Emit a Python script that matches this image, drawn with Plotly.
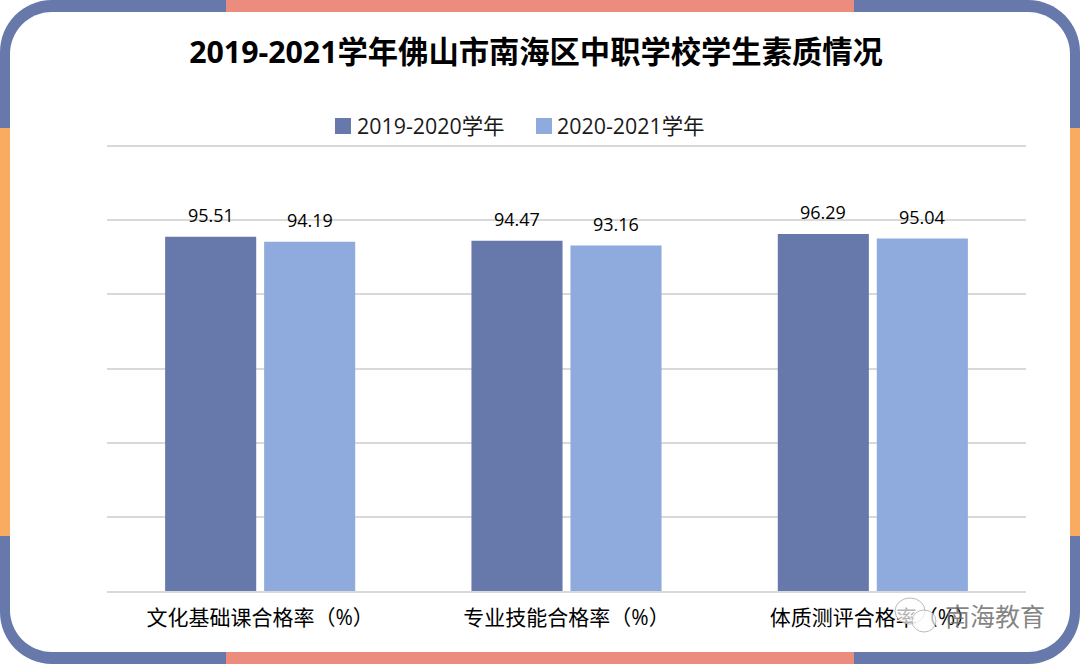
import plotly.graph_objects as go

categories = ["文化基础课合格率（%）", "专业技能合格率（%）", "体质测评合格率（%）"]
series_2019 = [95.51, 94.47, 96.29]
series_2020 = [94.19, 93.16, 95.04]
name_2019 = "2019-2020学年"
name_2020 = "2020-2021学年"
title_text = "2019-2021学年佛山市南海区中职学校学生素质情况"

FONT = "Open Sans, Noto Sans CJK SC, sans-serif"
BLUE = "#6779AB"
LIGHT = "#8FAADC"
ORANGE = "#F9AB62"
SALMON = "#EC8C7E"
W, H = 1080, 664
L, R, T, B = 107, 1026, 143, 591


def px(x):
    return (x - L) / (R - L)


def py(y):
    return (B - y) / (B - T)


def rrect(x0, y0, x1, y1, r):
    k = 0.5523 * r
    pts = [
        ("M", x0 + r, y0), ("L", x1 - r, y0),
        ("C", x1 - r + k, y0, x1, y0 + r - k, x1, y0 + r), ("L", x1, y1 - r),
        ("C", x1, y1 - r + k, x1 - r + k, y1, x1 - r, y1), ("L", x0 + r, y1),
        ("C", x0 + r - k, y1, x0, y1 - r + k, x0, y1 - r), ("L", x0, y0 + r),
        ("C", x0, y0 + r - k, x0 + r - k, y0, x0 + r, y0),
    ]
    out = ""
    for p in pts:
        vals = p[1:]
        coords = [f"{px(vals[i]):.5f},{py(vals[i + 1]):.5f}" for i in range(0, len(vals), 2)]
        out += p[0] + " ".join(coords) + " "
    return out + "Z"


def band(x0, y0, x1, y1, color, layer="below"):
    return dict(type="rect", xref="paper", yref="paper", layer=layer, line_width=0,
                fillcolor=color, x0=px(x0), x1=px(x1), y0=py(y0), y1=py(y1))


def blob(path, color):
    return dict(type="path", xref="paper", yref="paper", layer="below",
                path=path, fillcolor=color, line_width=0)


def bubble(x0, y0, x1, y1):
    return dict(type="circle", xref="paper", yref="paper", layer="above",
                x0=px(x0), x1=px(x1), y0=py(y0), y1=py(y1),
                fillcolor="rgba(255,255,255,0.7)", line=dict(color="rgba(170,170,170,0.8)", width=1))


def label(text, x, y, size, color="#000000", anchor="left"):
    return dict(text=text, xref="paper", yref="paper", x=px(x), y=py(y), xanchor=anchor, yanchor="middle",
                showarrow=False, font=dict(size=size, color=color, family=FONT))


def value_labels(vals, shift):
    return [dict(text=f"{v:.2f}", xref="x", yref="y", x=c, y=v, xshift=shift, yshift=8,
                 xanchor="center", yanchor="bottom", showarrow=False,
                 font=dict(size=18, color="#000000", family=FONT))
            for c, v in zip(categories, vals)]


shapes = [
    blob(rrect(0, 0, W, H, 52), BLUE),
    band(226, 0, 854, 20, SALMON),
    band(226, 644, 854, H, SALMON),
    band(0, 128, 20, 536, ORANGE),
    band(1060, 128, W, 536, ORANGE),
    blob(rrect(10, 12, 1070, 652, 42), "#FFFFFF"),
    band(335, 118, 351, 134, BLUE),
    band(536, 118, 552, 134, LIGHT),
    bubble(895, 598, 925, 624),
    bubble(912, 610, 936, 632),
]

fig = go.Figure()
for name, vals, color in [(name_2019, series_2019, BLUE), (name_2020, series_2020, LIGHT)]:
    fig.add_bar(x=categories, y=vals, name=name, marker=dict(color=color, line_width=0))

fig.update_layout(
    width=W, height=H, autosize=False,
    margin=dict(l=L, r=W - R, t=T, b=H - B, pad=0),
    paper_bgcolor="white", plot_bgcolor="white",
    font=dict(family=FONT, color="#000000"),
    barmode="group", bargap=0.3536, bargroupgap=0.08,
    title=dict(text=f"<b>{title_text}</b>", x=536 / W, xanchor="center", y=1 - 52.5 / H, yanchor="middle",
               font=dict(size=30.3, color="#000000", family=FONT)),
    xaxis=dict(showgrid=False, showline=True, linecolor="#D9D9D9", linewidth=1.5, ticks="",
               ticklabelstandoff=7, tickfont=dict(size=21, color="#000000", family=FONT)),
    yaxis=dict(range=[0, 120.81], tick0=0, dtick=20, showticklabels=False, ticks="",
               showgrid=True, gridcolor="#D9D9D9", gridwidth=1.5, zeroline=False, showline=False),
    shapes=shapes,
    annotations=[
        label(name_2019, 355, 126, 21.4, "#1a1a1a"),
        label(name_2020, 555, 126, 21.4, "#1a1a1a"),
        label("南海教育", 995, 616, 25, "rgba(110,110,110,0.85)", "center"),
    ] + value_labels(series_2019, -49.5) + value_labels(series_2020, 49.5),
    showlegend=False,
)
fig.write_html("out.html", config={"displayModeBar": False},
               post_script="document.body.style.margin='0';document.body.style.overflow='hidden';")
